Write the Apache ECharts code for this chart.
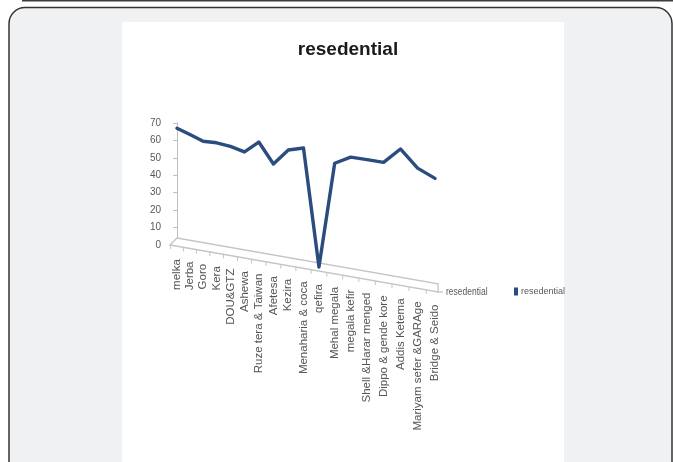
<!DOCTYPE html>
<html>
<head>
<meta charset="utf-8">
<script src="https://cdn.jsdelivr.net/npm/echarts@6/dist/echarts.min.js"></script>
<style>
  html, body { margin: 0; padding: 0; background: #ffffff; }
  #chart { width: 673px; height: 462px; }
</style>
</head>
<body>
<div id="chart"></div>
<script>
// Residential share per kebele
const categories = [
  'melka', 'Jerba', 'Goro', 'Kera', 'DOU&GTZ', 'Ashewa', 'Ruze tera & Taiwan',
  'Afetesa', 'Kezira', 'Menaharia & coca', 'qefira', 'Mehal megala',
  'megala kefir', 'Shell &Harar menged', 'Dippo & gende kore', 'Addis Ketema',
  'Mariyam sefer &GARAge', 'Bridge & Seido'
];
const residential = [68, 64, 60, 59, 57, 54, 59, 48, 55, 56, 0, 49, 52, 51, 50, 56, 48, 44];
const yMin = 0;
const yMax = 70;
const yStep = 10;
const seriesName = 'resedential';

// Perspective of the tilted floor
const N = categories.length;
const WARP_A = 0.843;      // spacing grows toward the viewer
const WARP_B = 1 - WARP_A;
const DEPTH_GROW = 0.3725; // vertical scale growth toward the viewer
const BASE_SLOPE = 0.143;  // drop of the zero line per pixel
const FLOOR_SLOPE = 0.1754;
const AXIS_OFFSET = 12;
const FONT = '"Liberation Sans", Arial, sans-serif';

function warpX(api, t) {
  const p0 = api.coord([0, 0]);
  const pN = api.coord([N - 1, 0]);
  const u = t / (N - 1);
  return p0[0] + (WARP_A * u + WARP_B * u * u) * (pN[0] - p0[0]);
}

function project(api, i, v) {
  const p0 = api.coord([0, 0]);
  const pv = api.coord([i, v]);
  const u = i / (N - 1);
  const x = warpX(api, i);
  const axisX = p0[0] - AXIS_OFFSET;
  const base = p0[1] + BASE_SLOPE * (x - axisX);
  const y = base - (p0[1] - pv[1]) * (1 + DEPTH_GROW * u);
  return [x, y];
}

function floorBottom(api, x) {
  const p0 = api.coord([0, 0]);
  const axisX = p0[0] - AXIS_OFFSET;
  return p0[1] + FLOOR_SLOPE * (x - (axisX + 5));
}

const chart = echarts.init(document.getElementById('chart'), null, { renderer: 'canvas' });

const option = {
  animation: false,
  title: {
    text: seriesName,
    left: 343,
    textAlign: 'center',
    top: 35,
    textStyle: {
      fontFamily: FONT,
      fontWeight: 'bold',
      fontSize: 19,
      color: '#1a1a1a'
    }
  },
  legend: {
    data: [seriesName],
    left: 509,
    top: 282,
    icon: 'rect',
    itemWidth: 4,
    itemHeight: 8,
    itemGap: 4,
    textStyle: {
      fontFamily: FONT,
      fontSize: 9,
      color: '#595959',
      padding: [0, 0, 0, -2]
    }
  },
  graphic: [
    {
      type: 'line', z: -10, silent: true,
      shape: { x1: 22, y1: 0.5, x2: 673, y2: 0.5 },
      style: { stroke: '#3c3c3c', lineWidth: 2 }
    },
    {
      type: 'rect', z: -10, silent: true,
      shape: { x: 9, y: 7.5, width: 663, height: 520, r: 16 },
      style: { fill: '#f0f1f3', stroke: '#333333', lineWidth: 1.5 }
    },
    {
      type: 'rect', z: -9, silent: true,
      shape: { x: 122, y: 22, width: 442, height: 450 },
      style: { fill: '#ffffff' }
    }
  ],
  grid: { left: 177, width: 258, top: 123, height: 122 },
  xAxis: { type: 'value', min: 0, max: N - 1, show: false },
  yAxis: {
    type: 'value',
    min: yMin,
    max: yMax,
    interval: yStep,
    offset: AXIS_OFFSET,
    axisLine: { show: true, lineStyle: { color: '#bfbfbf', width: 1 } },
    axisTick: { show: true, length: 4, lineStyle: { color: '#bfbfbf' } },
    axisLabel: {
      margin: 4,
      color: '#595959',
      fontSize: 10,
      fontFamily: FONT
    },
    splitLine: { show: false }
  },
  series: [
    {
      // tilted floor with category ticks and labels
      type: 'custom',
      name: 'floor',
      silent: true,
      z: 1,
      data: categories.map((c, i) => [i, 0]),
      renderItem: function (params, api) {
        const i = params.dataIndex;
        const children = [];
        const x = warpX(api, i);
        const yb = floorBottom(api, x);
        if (i === 0) {
          const p0 = api.coord([0, 0]);
          const axisX = p0[0] - AXIS_OFFSET;
          const xl = axisX + 5;
          const xr = api.coord([N - 1, 0])[0] + 3;
          const ybl = floorBottom(api, xl);
          const ybr = floorBottom(api, xr);
          const ytr = floorBottom(api, xr - 7) - 7;
          children.push({
            type: 'polygon',
            shape: { points: [[xl, ybl], [xl + 7, ybl - 7], [xr, ytr], [xr, ybr]] },
            style: { fill: '#ffffff', stroke: '#c4c4c4', lineWidth: 1.3 }
          });
          children.push({
            type: 'line',
            shape: { x1: xr - 1, y1: ybr, x2: xr + 5, y2: ybr },
            style: { stroke: '#c4c4c4', lineWidth: 1.2 }
          });
          children.push({
            type: 'text',
            x: xr + 8, y: ybr,
            scaleX: 0.85,
            style: {
              text: seriesName, align: 'left', verticalAlign: 'middle',
              font: '10px ' + FONT,
              fill: '#595959'
            }
          });
          const tx0 = warpX(api, -0.5);
          children.push({
            type: 'line',
            shape: { x1: tx0, y1: floorBottom(api, tx0), x2: tx0, y2: floorBottom(api, tx0) + 4 },
            style: { stroke: '#c4c4c4', lineWidth: 1 }
          });
        }
        const tx = warpX(api, i + 0.5);
        if (i < N - 1) {
          children.push({
            type: 'line',
            shape: { x1: tx, y1: floorBottom(api, tx), x2: tx, y2: floorBottom(api, tx) + 4 },
            style: { stroke: '#c4c4c4', lineWidth: 1 }
          });
        }
        children.push({
          type: 'text',
          x: x, y: yb + 13,
          rotation: Math.PI / 2,
          style: {
            text: categories[i], align: 'right', verticalAlign: 'middle',
            font: '11.5px ' + FONT,
            fill: '#555555'
          }
        });
        return { type: 'group', children: children };
      }
    },
    {
      type: 'custom',
      name: seriesName,
      z: 3,
      itemStyle: { color: '#2b4c7e' },
      data: residential.map((v, i) => [i, v]),
      renderItem: function (params, api) {
        if (params.dataIndex !== 0) return null;
        const pts = residential.map((v, i) => project(api, i, v));
        return {
          type: 'polyline',
          shape: { points: pts },
          style: { stroke: '#2b4c7e', lineWidth: 3.4, fill: null, lineJoin: 'round', lineCap: 'round' }
        };
      }
    }
  ]
};

chart.setOption(option);
</script>
</body>
</html>
